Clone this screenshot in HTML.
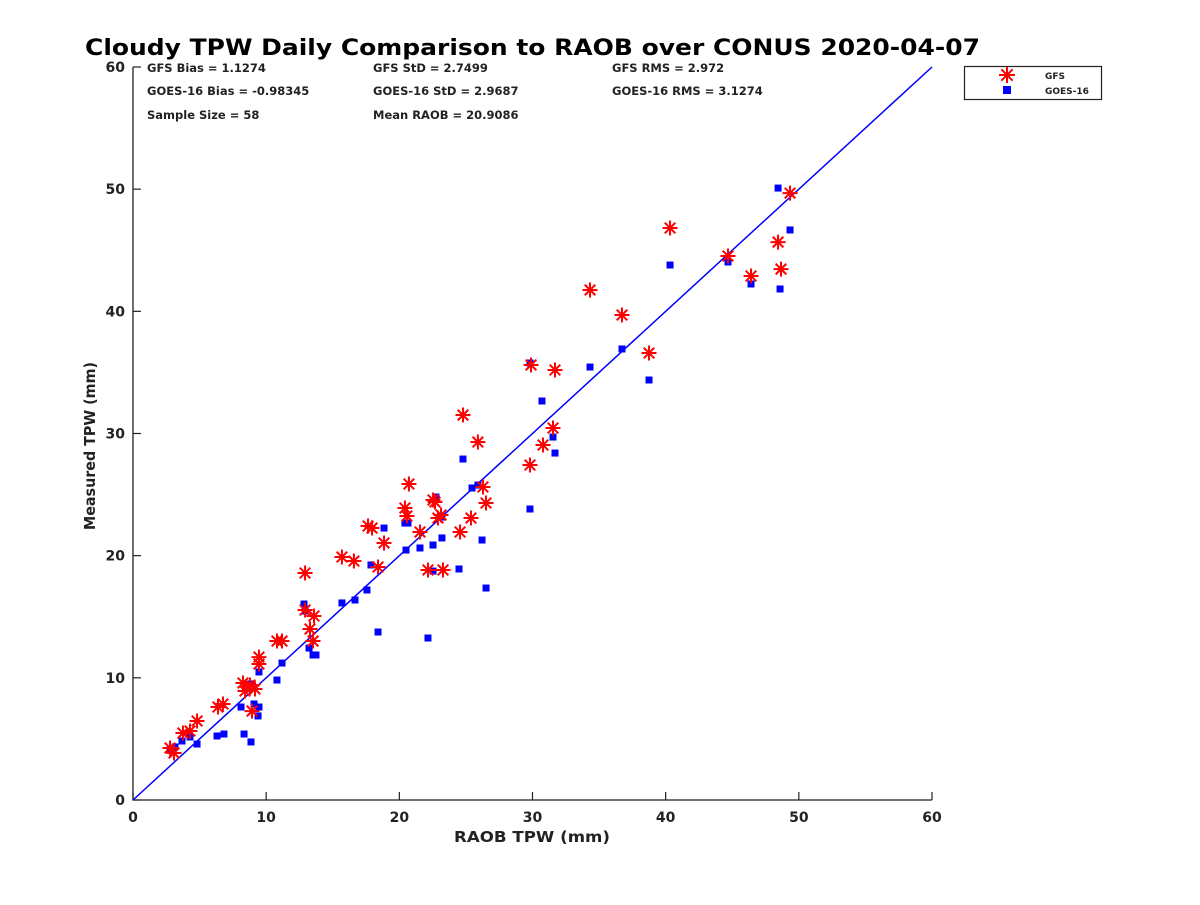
<!DOCTYPE html>
<html><head><meta charset="utf-8"><style>
html,body{margin:0;padding:0;background:#fff;}
svg text{font-family:"DejaVu Sans","Liberation Sans",sans-serif;font-weight:bold;fill:#222;}
</style></head><body>
<svg id="chart" width="1200" height="900" viewBox="0 0 1200 900" xmlns="http://www.w3.org/2000/svg">
<text x="85" y="55" font-size="22" textLength="895" lengthAdjust="spacingAndGlyphs" style="fill:#000">Cloudy TPW Daily Comparison to RAOB over CONUS 2020-04-07</text>
<g id="stats" font-size="11.5">
<text x="147" y="72">GFS Bias = 1.1274</text>
<text x="373" y="72">GFS StD = 2.7499</text>
<text x="612" y="72">GFS RMS = 2.972</text>
<text x="147" y="95">GOES-16 Bias = -0.98345</text>
<text x="373" y="95">GOES-16 StD = 2.9687</text>
<text x="612" y="95">GOES-16 RMS = 3.1274</text>
<text x="147" y="119">Sample Size = 58</text>
<text x="373" y="119">Mean RAOB = 20.9086</text>
</g>
<g id="plot"></g>
<g>
<rect x="964.5" y="66.5" width="137" height="33" fill="#fff" stroke="#222" stroke-width="1.2"/>
<g id="legstar"></g>
<rect x="1003" y="86" width="8" height="8" fill="#0000ff"/>
<text x="1045" y="79" font-size="9">GFS</text>
<text x="1045" y="94" font-size="9">GOES-16</text>
</g>
</svg>
<script>
const xTicks=[0,10,20,30,40,50,60];
const yTicks=[0,10,20,30,40,50,60];
const gfsX=[2.78,3.08,3.75,4.28,4.81,6.38,6.76,8.26,8.41,8.79,8.94,9.16,9.46,9.46,10.81,11.19,12.92,12.92,13.29,13.59,13.52,15.69,16.59,17.65,17.95,18.4,18.85,20.42,20.57,20.72,21.55,22.15,22.53,22.68,23.13,23.28,22.9,24.56,24.78,25.38,25.9,26.28,26.51,29.89,29.81,30.79,31.54,31.69,34.32,36.72,38.75,40.33,44.68,46.41,48.44,48.66,49.34];
const gfsY=[4.26,3.85,5.48,5.65,6.47,7.61,7.86,9.58,8.92,9.41,7.28,9.09,11.7,11.13,13.01,13.01,18.58,15.55,14.0,15.06,13.01,19.89,19.56,22.43,22.26,19.07,21.04,23.9,23.25,25.87,21.94,18.83,24.56,24.39,23.33,18.83,23.08,21.94,31.51,23.08,29.3,25.62,24.31,35.61,27.42,29.06,30.45,35.2,41.75,39.7,36.59,46.82,44.53,42.89,45.67,43.46,49.68];
const goesX=[2.78,3.15,3.68,4.28,4.81,6.31,6.83,8.11,8.34,8.86,8.86,9.09,9.39,9.46,9.46,10.81,11.19,12.84,12.92,13.22,13.52,13.74,15.69,16.67,17.57,17.87,18.4,18.85,20.42,20.65,20.5,21.55,22.15,22.53,22.75,22.53,23.2,23.2,24.48,24.78,25.46,25.9,26.21,26.51,29.81,29.81,30.71,31.54,31.69,34.32,36.72,38.75,40.33,44.68,46.41,48.44,48.59,49.34];
const goesY=[4.09,4.34,4.83,5.16,4.58,5.24,5.4,7.61,5.4,4.75,9.5,7.86,6.88,7.61,10.48,9.82,11.21,16.04,15.47,12.44,11.87,11.87,16.13,16.37,17.19,19.24,13.75,22.26,22.67,22.67,20.46,20.63,13.26,20.87,24.8,18.74,21.45,23.16,18.91,27.91,25.54,25.78,21.28,17.35,35.77,23.82,32.66,29.71,28.4,35.44,36.92,34.38,43.79,44.04,42.24,50.09,41.83,46.66];
const X0=133,X1=932,Y0=800,Y1=67;
const sx=v=>X0+(v-0)/60*(X1-X0);
const sy=v=>Y0-(v-0)/60*(Y0-Y1);
const NS="http://www.w3.org/2000/svg";
const plot=document.getElementById('plot');
function mk(tag,attrs,parent){const e=document.createElementNS(NS,tag);for(const k in attrs)e.setAttribute(k,attrs[k]);(parent||plot).appendChild(e);return e;}
let ax=mk('path',{d:`M${X0},${Y1} L${X0},${Y0} L${X1},${Y0}`,fill:'none',stroke:'#222','stroke-width':1.3});


xTicks.forEach(t=>{
 let l=mk('line',{x1:sx(t),x2:sx(t),y1:Y0,y2:Y0-8,stroke:'#222','stroke-width':1.2});
 
 
 let tx=mk('text',{x:sx(t),y:Y0+22,'text-anchor':'middle','font-size':14});tx.textContent=t;
 
 
});
yTicks.forEach(t=>{
 let l=mk('line',{x1:X0,x2:X0+8,y1:sy(t),y2:sy(t),stroke:'#222','stroke-width':1.2});
 
 
 let tx=mk('text',{x:X0-8,y:sy(t)+5,'text-anchor':'end','font-size':14});tx.textContent=t;
 
 
});
let xl=mk('text',{x:454,y:842,'font-size':15,textLength:156,lengthAdjust:'spacingAndGlyphs'});xl.textContent='RAOB TPW (mm)';


let yl=mk('text',{x:0,y:0,'font-size':15,textLength:168,lengthAdjust:'spacingAndGlyphs',transform:'translate(95,530) rotate(-90)'});yl.textContent='Measured TPW (mm)';


let ol=mk('line',{x1:sx(0),y1:sy(0),x2:sx(60),y2:sy(60),stroke:'#0000ff','stroke-width':1.5});


function star(cx,cy,r,parent){
 let d='';for(let i=0;i<4;i++){const a=i*Math.PI/4;const dx=r*Math.cos(a),dy=r*Math.sin(a);d+=`M${cx-dx},${cy-dy}L${cx+dx},${cy+dy}`;}
 return mk('path',{d:d,stroke:'#ff0000','stroke-width':2,fill:'none'},parent);
}
goesX.forEach((v,i)=>{
 let r=mk('rect',{x:sx(v)-3.5,y:sy(goesY[i])-3.5,width:7,height:7,fill:'#0000ff'});
 
 
});
gfsX.forEach((v,i)=>{
 let s=star(sx(v),sy(gfsY[i]),7.5);
 
 
});
let ls=star(1007,75,8,document.getElementById('legstar'));


</script>
</body></html>
